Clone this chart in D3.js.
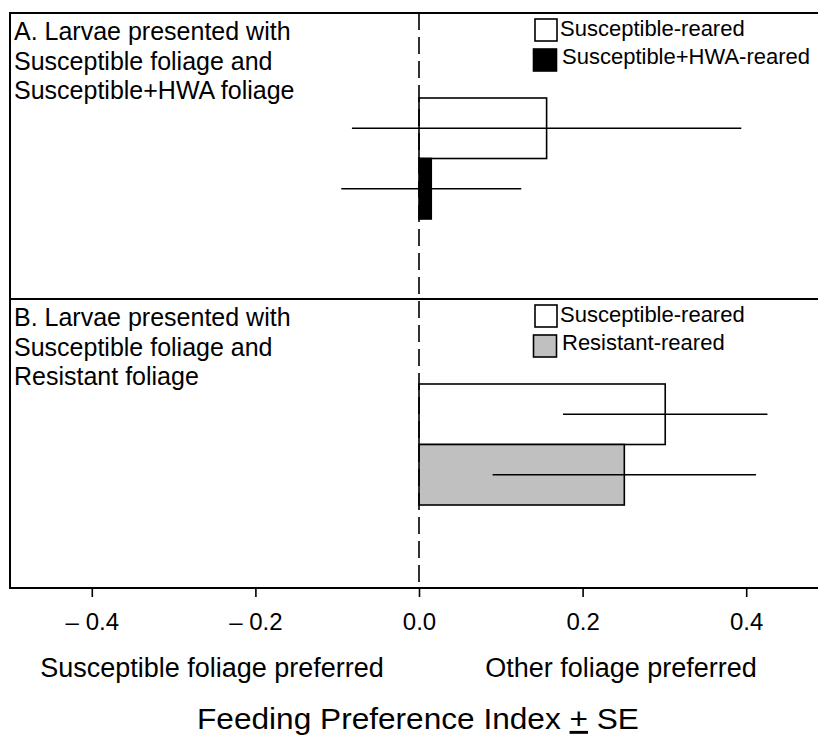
<!DOCTYPE html>
<html><head><meta charset="utf-8">
<script src="https://cdn.jsdelivr.net/npm/d3@7"></script>
<style>body{margin:0;background:#fff}svg{display:block}</style>
</head><body>
<svg id="c" width="818" height="737"></svg>
<script>
// ---- data ----
const panels = ["A", "B"];
const panelTitles = [
  ["A. Larvae presented with", "Susceptible foliage and", "Susceptible+HWA foliage"],
  ["B. Larvae presented with", "Susceptible foliage and", "Resistant foliage"]
];
const seriesA = ["Susceptible-reared", "Susceptible+HWA-reared"];
const meansA = [0.156, 0.015];
const seA = [0.238, 0.110];
const seriesB = ["Susceptible-reared", "Resistant-reared"];
const meansB = [0.301, 0.251];
const seB = [0.125, 0.161];
const fillsA = ["#ffffff", "#000000"];
const fillsB = ["#ffffff", "#c0c0c0"];
const tickValues = [-0.4, -0.2, 0.0, 0.2, 0.4];
const tickLabels = ["\u2013 0.4", "\u2013 0.2", "0.0", "0.2", "0.4"];
const sideLabels = ["Susceptible foliage preferred", "Other foliage preferred"];
const xTitle = ["Feeding Preference Index ", "+", " SE"];

const svg = d3.select("#c");
const x = d3.scaleLinear().domain([-0.5, 0.5]).range([10, 828]);
const py = d3.scaleBand().domain(panels).range([13, 585]);
const panelData = [
  {key: "A", series: seriesA, means: meansA, se: seA, fills: fillsA, title: panelTitles[0]},
  {key: "B", series: seriesB, means: meansB, se: seB, fills: fillsB, title: panelTitles[1]}
];
const sans = "'Liberation Sans', Arial, sans-serif";

panelData.forEach((p, pi) => {
  const top = py(p.key);
  const g = svg.append("g").attr("transform", `translate(0,${top})`);
  const yb = d3.scaleBand().domain(p.series).range([85, 206]);
  // bars
  p.series.forEach((s, i) => {
    const v = p.means[i];
    g.append("rect")
      .attr("x", x(Math.min(0, v))).attr("y", yb(s))
      .attr("width", Math.abs(x(v) - x(0))).attr("height", yb.bandwidth())
      .attr("fill", p.fills[i]).attr("stroke", "#000").attr("stroke-width", 1.6);
  });
  p.series.forEach((s, i) => {
    const cy = yb(s) + yb.bandwidth() / 2;
    g.append("line")
      .attr("x1", x(p.means[i] - p.se[i])).attr("x2", x(p.means[i] + p.se[i]))
      .attr("y1", cy).attr("y2", cy)
      .attr("stroke", "#000").attr("stroke-width", 1.6);
  });
  // title
  const t = g.append("text").attr("x", 14).attr("y", 27)
    .attr("font-family", sans).attr("font-size", 25).attr("fill", "#000");
  p.title.forEach((line, li) => {
    t.append("tspan").attr("x", 14).attr("dy", li === 0 ? 0 : 29.5).text(line);
  });
  // legend
  const lg = g.append("g").attr("transform", "translate(535,0)");
  p.series.forEach((s, i) => {
    lg.append("rect").attr("x", i === 0 ? 0 : -1.5).attr("y", 6 + i * 30).attr("width", i === 0 ? 22 : 23).attr("height", 22)
      .attr("fill", p.fills[i]).attr("stroke", "#000").attr("stroke-width", 1.6);
    lg.append("text").attr("x", i === 0 ? 25 : 27).attr("y", 23 + i * 28)
      .attr("font-family", sans).attr("font-size", 22).attr("fill", "#000").text(s);
  });
});

// dashed zero line
svg.append("line").attr("x1", x(0)).attr("x2", x(0)).attr("y1", 13).attr("y2", 588)
  .attr("stroke", "#000").attr("stroke-width", 1.6).attr("stroke-dasharray", "17,7");

// frame
svg.append("rect").attr("x", 10).attr("y", 13).attr("width", 818).attr("height", 575)
  .attr("fill", "none").attr("stroke", "#000").attr("stroke-width", 2);
svg.append("line").attr("x1", 10).attr("x2", 828).attr("y1", py("B")).attr("y2", py("B"))
  .attr("stroke", "#000").attr("stroke-width", 2);

// axis
const axis = d3.axisBottom(x).tickValues(tickValues).tickSize(9)
  .tickFormat((d, i) => tickLabels[i]);
const ag = svg.append("g").attr("transform", "translate(0,588)").call(axis);
ag.select(".domain").remove();
ag.selectAll(".tick line").attr("stroke", "#000").attr("stroke-width", 1.6);
ag.selectAll(".tick text").attr("font-family", sans).attr("font-size", 24)
  .attr("fill", "#000").attr("y", 42).attr("dy", 0);

// side labels
svg.append("text").attr("x", 212).attr("y", 677).attr("text-anchor", "middle")
  .attr("font-family", sans).attr("font-size", 27).attr("fill", "#000").text(sideLabels[0]);
svg.append("text").attr("x", 621).attr("y", 677).attr("text-anchor", "middle")
  .attr("font-family", sans).attr("font-size", 27).attr("fill", "#000").text(sideLabels[1]);

// axis title
const tt = svg.append("text").attr("x", 0).attr("y", 0).attr("text-anchor", "middle")
  .attr("font-family", sans).attr("font-size", 29).attr("fill", "#000");
tt.append("tspan").text(xTitle[0]);
tt.append("tspan").attr("text-decoration", "underline").text(xTitle[1]);
tt.append("tspan").text(xTitle[2]);
const tw = tt.node().getComputedTextLength();
tt.attr("transform", `translate(418,729) scale(${442 / tw},1)`);
</script>
</body></html>
